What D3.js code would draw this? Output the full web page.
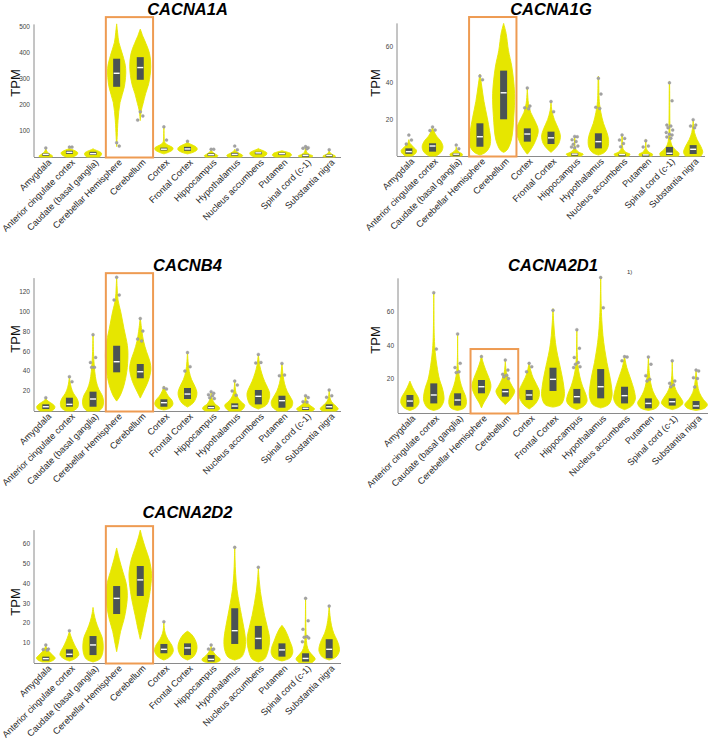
<!DOCTYPE html>
<html><head><meta charset="utf-8">
<script src="https://cdn.jsdelivr.net/npm/d3@7"></script>
<style>
html,body{margin:0;padding:0;background:#fff;}
svg{display:block;font-family:"Liberation Sans",Arial,sans-serif;}
</style></head>
<body>
<svg id="c" width="709" height="746"></svg>
<script>
const categories = ["Amygdala","Anterior cingulate cortex","Caudate (basal ganglia)","Cerebellar Hemisphere","Cerebellum","Cortex","Frontal Cortex","Hippocampus","Hypothalamus","Nucleus accumbens","Putamen","Spinal cord (c-1)","Substantia nigra"];
const genes = ["CACNA1A","CACNA1G","CACNB4","CACNA2D1","CACNA2D2"];
const highlighted = ["Cerebellar Hemisphere","Cerebellum"];

// tick labels per gene
const ticksA1A = [100,200,300,400,500];
const ticksA1G = [20,40,60];
const ticksB4 = [20,40,60,80,100,120];
const ticksA2D1 = [20,40,60];
const ticksA2D2 = [10,20,30,40,50,60];

// violin profiles: [TPM, relative density]
const shapesA1A = [
 [[0,0.55],[4,0.6],[10,0.4],[18,0.15],[28,0.03],[35,0]],
 [[0,0.3],[8,0.65],[16,0.74],[24,0.5],[30,0.15],[34,0]],
 [[0,0.55],[7,0.72],[15,0.74],[22,0.5],[28,0.15],[32,0]],
 [[40,0],[80,0.05],[140,0.12],[210,0.3],[270,0.68],[340,0.8],[390,0.55],[440,0.2],[480,0.08],[512,0]],
 [[140,0],[180,0.1],[206,0.25],[245,0.48],[283,0.75],[347,0.93],[398,0.82],[437,0.5],[463,0.24],[492,0]],
 [[12,0],[18,0.4],[28,0.78],[35,0.8],[42,0.55],[50,0.2],[60,0.05],[80,0.02],[117,0]],
 [[12,0],[18,0.5],[28,0.85],[36,0.82],[45,0.5],[52,0.15],[58,0]],
 [[0,0.5],[5,0.6],[12,0.35],[20,0.1],[28,0]],
 [[0,0.6],[6,0.7],[14,0.4],[22,0.1],[30,0]],
 [[0,0.35],[8,0.7],[16,0.75],[24,0.45],[30,0.1],[33,0]],
 [[0,0.6],[7,0.85],[14,0.75],[20,0.35],[24,0]],
 [[0,0.5],[4,0.65],[10,0.35],[18,0.1],[30,0.03],[40,0]],
 [[0,0.5],[4,0.55],[10,0.25],[18,0.06],[26,0]]
];
const boxesA1A = [[5,10,14],[12,18,24],[8,13,20],[270,322,378],[297,344,384],[25,30,36],[24,31,39],[4,9,14],[5,10,16],[12,16,20],[9,13,17],[3,6,10],[3,6,10]];
const pointsA1A = [[35],[38,38],[],[55,42],[174,158,142],[116,65],[61],[30,30],[42,28],[],[],[40,36,34,32],[28]];

const shapesA1G = [
 [[0,0.3],[1.5,0.6],[3,0.68],[5,0.4],[7,0.1],[9,0]],
 [[0,0.3],[2,0.75],[5,0.92],[8,0.75],[11,0.35],[14,0.1],[16,0]],
 [[0,0.5],[1,0.55],[2,0.3],[3.5,0.05],[5,0]],
 [[0.5,0],[2,0.5],[5,0.85],[9,0.95],[14,0.85],[21,0.65],[30,0.36],[38,0.17],[44,0.03],[45,0]],
 [[2,0],[3.3,0.3],[8.8,0.68],[21.6,0.9],[34.5,0.97],[49,0.73],[58,0.43],[67.5,0.22],[73,0]],
 [[1,0],[3,0.25],[8,0.7],[14,0.97],[19,0.7],[24,0.3],[29,0.1],[35,0.02],[37,0]],
 [[2,0],[4,0.35],[7,0.7],[11,0.83],[15,0.65],[20,0.3],[25,0.08],[30,0]],
 [[0,0.6],[1,0.75],[2,0.4],[4,0.08],[10,0.02],[11,0]],
 [[0.5,0],[2,0.55],[5,0.85],[9,0.9],[13,0.75],[18,0.45],[24,0.22],[30,0.08],[43,0.02],[44,0]],
 [[0,0.6],[1,0.7],[2,0.35],[4,0.08],[11,0.02],[12,0]],
 [[0,0.55],[1,0.6],[2,0.3],[4,0.05],[8,0.01],[9,0]],
 [[0,0.8],[1.5,0.85],[3.5,0.5],[6,0.2],[10,0.07],[17,0.04],[40,0.01],[41,0]],
 [[0,0.7],[2,0.85],[5,0.7],[9,0.35],[13,0.12],[17,0.03],[20,0]]
];
const boxesA1G = [[1.2,2.4,4.2],[2.4,5.5,7],[0.5,1,1.5],[5.1,10.6,18],[20.2,34.8,47],[7.9,12.1,15.2],[6.6,10,13.4],[0.5,1,1.5],[4.2,7.9,12.5],[0.4,0.8,1.2],[0.3,0.6,1],[0.5,1.5,5],[1.1,3.7,6]];
const pointsA1G = [[11.5,8.8,6.6],[16,14.3,14],[6,4],[44,42],[],[37.5,27.5,26.5,26],[30,24.4],[10.8,10.6,9,8,6.5,5.5,5,4.5],[42.8,34.1,26.8,26.2],[11.6,9.7,8.8,6.9,5.1],[8.4,5.5,5],[40.3,30.4,17,16.5,15.5,14.3,13,12,11.6,10.5,9.8],[20,17,16.5,15.5]];

const shapesB4 = [
 [[0,0.5],[2,0.75],[4.5,0.8],[7,0.6],[10,0.2],[12,0.03],[13,0]],
 [[0,0.3],[3,0.7],[8,0.8],[13,0.65],[18,0.35],[24,0.15],[30,0.05],[35,0]],
 [[0,0.55],[4,0.85],[10,0.93],[16,0.8],[22,0.5],[30,0.28],[40,0.15],[50,0.08],[60,0.04],[78,0]],
 [[10,0],[16,0.33],[26,0.65],[40,0.9],[56,1],[66,0.95],[83,0.65],[100,0.36],[112,0.12],[125,0.04],[136,0]],
 [[13,0],[20,0.3],[30,0.7],[42,0.94],[50,0.85],[60,0.55],[70,0.3],[80,0.15],[94,0]],
 [[1,0],[3,0.55],[7,0.8],[11,0.7],[15,0.4],[20,0.15],[24,0.02],[25,0]],
 [[4,0],[8,0.5],[14,0.78],[19,0.83],[25,0.65],[32,0.35],[40,0.15],[50,0.05],[60,0]],
 [[0,0.5],[2,0.75],[4,0.7],[7,0.35],[12,0.1],[16,0.02],[19,0]],
 [[0,0.5],[3,0.8],[6,0.88],[9,0.6],[13,0.3],[18,0.12],[24,0.04],[31,0]],
 [[2,0],[6,0.7],[12,0.95],[18,1],[24,0.8],[30,0.55],[38,0.3],[46,0.12],[52,0.05],[57,0]],
 [[0,0.4],[4,0.85],[9,0.95],[14,0.75],[20,0.45],[28,0.22],[36,0.1],[48,0]],
 [[0,0.6],[2,0.8],[4,0.6],[7,0.25],[10,0.08],[15,0.02],[16,0]],
 [[0,0.6],[2,0.8],[5,0.6],[8,0.3],[12,0.1],[17,0.03],[21,0]]
];
const boxesB4 = [[2,4.3,6.7],[4.3,6.7,13.4],[4.3,12.1,19.5],[39,49.7,65.8],[33,39.6,47.4],[4.3,8.4,11.8],[12.1,17.1,23.2],[2,3.4,5.3],[2,5,7.7],[6.7,14.8,21.2],[3.3,10.4,15.4],[1,2.7,4],[2,4.3,6.7]];
const pointsB4 = [[13.4],[34.6,29.6],[77,54,49,44,44],[135,117,112],[93.3,80.6,72.6,70.6],[23.5,22.2],[59,44.7,40.3],[19.5,18,16.5,15.4,13.4,12.5],[30.2,26.2,20.2,16],[57.1,49,48.5],[48,36.3,35.6],[15.4,13.5,9.4,9],[21.2,15.4,13.9]];

const shapesA2D1 = [
 [[1.5,0],[3,0.5],[6,0.8],[9,0.75],[12,0.5],[15,0.25],[19,0]],
 [[1.5,0],[3,0.55],[7,0.88],[10,0.9],[15,0.75],[20,0.5],[28,0.28],[36,0.13],[45,0.05],[72,0]],
 [[1.5,0],[3,0.6],[6,0.78],[10,0.7],[14,0.45],[19,0.22],[25,0.08],[32,0.02],[47,0]],
 [[3,0],[6,0.2],[10,0.55],[14,0.8],[17,0.83],[21,0.65],[26,0.35],[31,0.1],[34.5,0]],
 [[5,0],[7,0.3],[10,0.65],[13,0.83],[16,0.6],[20,0.3],[24,0.1],[28,0.03],[32,0]],
 [[2.4,0],[5,0.5],[9,0.85],[13,0.9],[17,0.65],[21,0.35],[25,0.15],[30,0]],
 [[3.5,0],[5,0.7],[10,1],[16,0.95],[22,0.8],[30,0.55],[38,0.3],[46,0.15],[54,0.06],[62,0]],
 [[2,0],[4,0.6],[7,0.9],[11,0.8],[16,0.5],[22,0.25],[28,0.1],[35,0.04],[49,0]],
 [[3,0],[5,0.7],[10,1],[16,0.95],[22,0.8],[30,0.55],[38,0.35],[46,0.2],[55,0.1],[65,0.04],[81,0]],
 [[2,0],[4,0.6],[8,0.95],[12,0.9],[17,0.7],[22,0.45],[27,0.2],[31,0.07],[34,0]],
 [[1.5,0],[3,0.7],[6,0.95],[9,0.7],[13,0.4],[18,0.2],[24,0.08],[33,0]],
 [[2,0],[3.5,0.6],[6,0.95],[9,0.75],[12,0.45],[16,0.2],[20,0.07],[25,0.02],[31,0]],
 [[1.5,0],[3,0.8],[5,1],[8,0.65],[12,0.3],[17,0.12],[22,0.04],[26,0]]
];
const boxesA2D1 = [[3.7,7.1,10.7],[5.7,10.7,17.6],[4.4,7.7,11.7],[11.7,15.6,19.6],[9.7,12.7,14.3],[7.7,10.7,13.7],[13.1,20,26.9],[5.7,9.7,14.3],[8.7,15.6,26.1],[5.7,10.3,15.6],[2.8,5.7,8.7],[4.4,6.7,8.7],[2.4,4.2,7.1]];
const pointsA2D1 = [[],[71.5,38],[47,29.5,27,24.5,24],[33.5],[31.5,25.5,23,22.5,21.5,20.5],[29.5,27.5,24.5],[61],[49.5,38.5,33,30,29,27.5,27],[80.5,62.5],[33.5,33.3,31],[33.3,29,22.2,20,19],[31,19,17.7,16.7,15.6],[25.5,25,21,20.5,15.5]];

const shapesA2D2 = [
 [[0.5,0.3],[1.5,0.7],[2.5,0.83],[4,0.6],[6,0.25],[8,0.05],[9,0]],
 [[1,0],[2,0.45],[4,0.83],[6,0.75],[8,0.55],[11,0.3],[14,0.1],[16,0]],
 [[0.5,0],[2,0.6],[5,0.85],[9,0.9],[13,0.8],[17,0.5],[21,0.25],[25,0.08],[28,0]],
 [[5.7,0],[10,0.15],[16,0.35],[22,0.65],[28,0.85],[34,0.95],[40,0.85],[46,0.55],[52,0.25],[56,0.08],[58,0]],
 [[12,0],[17,0.2],[24,0.45],[32,0.75],[40,0.95],[45,1],[52,0.8],[58,0.45],[63,0.18],[67,0]],
 [[1.5,0],[3,0.5],[6,0.83],[9,0.7],[12,0.35],[15,0.12],[18,0.03],[21,0]],
 [[1.5,0],[3,0.5],[6,0.8],[9,0.83],[12,0.65],[14.5,0.35],[16,0]],
 [[0.3,0.4],[1,0.75],[2,0.8],[3.5,0.5],[5.5,0.2],[7.5,0.05],[8.5,0]],
 [[1.5,0],[3,0.6],[7,0.9],[12,0.95],[18,0.8],[24,0.6],[30,0.4],[37,0.2],[45,0.08],[52,0.03],[59,0]],
 [[0.5,0],[2,0.55],[6,0.85],[12,1],[18,0.8],[24,0.55],[30,0.35],[36,0.18],[42,0.07],[48,0]],
 [[1,0],[2.5,0.7],[5,0.95],[8,0.9],[11,0.7],[14,0.5],[17,0.25],[19,0]],
 [[0.3,0.6],[2,0.85],[4,0.6],[6,0.3],[9,0.12],[14,0.05],[22,0.02],[33,0]],
 [[1.5,0],[3,0.6],[6,0.9],[9,0.85],[12,0.65],[15,0.4],[19,0.2],[24,0.07],[29,0]]
];
const boxesA2D2 = [[1.2,2.2,3.2],[2.9,4.4,6.9],[4,9.1,13.6],[24.7,32.6,38.8],[33.8,41.9,48.9],[4.9,6.9,9.6],[4,7.6,9.9],[0.7,1.8,4],[9.6,16.3,27.6],[6.9,12.4,18.7],[3.2,6.6,9.9],[0.7,2.3,4.9],[2.4,6.9,12]];
const pointsA2D2 = [[9.1,7,6.8,6.5],[16.3],[],[],[],[20.8],[],[9.1,7,7,6.8],[58.3],[48.3],[],[32.6,21.3,17,13.3,13,12.6,10.7],[28.7]];

// highlight frame top (TPM) per gene
const frameTop = [538, 76.5, 139, 38, 69];
const axisTop = [510, 73, 134, 80, 67];

// ---------------- layout ----------------
const panels = [
 {xr:[34,341], dom:[0,500], rng:[157,27], ticks:ticksA1A, shapes:shapesA1A, boxes:boxesA1A, pts:pointsA1A, titleY:15, tpm:[15,83]},
 {xr:[397,705], dom:[0,60], rng:[156,47], ticks:ticksA1G, shapes:shapesA1G, boxes:boxesA1G, pts:pointsA1G, titleY:15, tpm:[375,83]},
 {xr:[34,341], dom:[0,120], rng:[411,292], ticks:ticksB4, shapes:shapesB4, boxes:boxesB4, pts:pointsB4, titleY:271, tpm:[15,339]},
 {xr:[398,708], dom:[0,60], rng:[413,312], ticks:ticksA2D1, shapes:shapesA2D1, boxes:boxesA2D1, pts:pointsA2D1, titleY:271, tpm:[375,340]},
 {xr:[34,341], dom:[0,60], rng:[663,544], ticks:ticksA2D2, shapes:shapesA2D2, boxes:boxesA2D2, pts:pointsA2D2, titleY:518, tpm:[15,602]}
];

const svg = d3.select("#c");
const HALF = 11.3;
const violinFill = "#e6e600";
const boxFill = "#4b5355";
const jit = [0, 2.6, -2.6, 1.4, -1.4, 3.2, -3.2];

panels.forEach((p, gi) => {
  const g = svg.append("g");
  const x = d3.scaleBand().domain(categories).range(p.xr).padding(0);
  const y = d3.scaleLinear().domain(p.dom).range(p.rng);
  const w = d3.scaleLinear().domain([0,1]).range([0,HALF]);
  const base = y(0);

  // axes
  g.append("line").attr("x1", p.xr[0]).attr("x2", p.xr[0]).attr("y1", base).attr("y2", y(axisTop[gi]))
    .attr("stroke","#8a8a8a").attr("stroke-width",1);
  g.append("line").attr("x1", p.xr[0]).attr("x2", p.xr[1]).attr("y1", base+0.5).attr("y2", base+0.5)
    .attr("stroke","#8a8a8a").attr("stroke-width",1);
  g.selectAll("text.tk").data(p.ticks).join("text").attr("class","tk")
    .attr("x", p.xr[0]-4).attr("y", d=>y(d)).attr("dy","0.33em")
    .attr("text-anchor","end").attr("font-size",6.5).attr("fill","#444").text(d=>d);

  // violins
  const area = d3.area().curve(d3.curveCatmullRom.alpha(0.5));
  categories.forEach((c, i) => {
    const cx = x(c) + x.bandwidth()/2;
    area.y(d=>y(d[0])).x0(d=>cx - w(d[1])).x1(d=>cx + w(d[1]));
    g.append("path").attr("d", area(p.shapes[i])).attr("fill", violinFill)
      .attr("stroke", violinFill).attr("stroke-width", 0.9).attr("stroke-linejoin","round");
    const b = p.boxes[i];
    const top = y(b[2]), bot = y(b[0]);
    g.append("rect").attr("x", cx-3.5).attr("width", 7).attr("y", top).attr("height", Math.max(bot-top, 2.5)).attr("fill", boxFill);
    g.append("line").attr("x1", cx-3).attr("x2", cx+3).attr("y1", y(b[1])).attr("y2", y(b[1]))
      .attr("stroke","#fff").attr("stroke-width",1.4);
    g.selectAll(null).data(p.pts[i]).join("circle")
      .attr("cx", (d,k)=>cx + jit[k % jit.length]).attr("cy", d=>y(d)).attr("r",1.5)
      .attr("fill","#a3a3a3").attr("stroke","#8d8d8d").attr("stroke-width",0.3);
  });

  // highlight frame
  const fx0 = x(highlighted[0]) + 1, fx1 = x(highlighted[1]) + x.bandwidth() + 1;
  g.append("rect").attr("x", fx0).attr("y", y(frameTop[gi])).attr("width", fx1-fx0).attr("height", base + 0.5 - y(frameTop[gi]))
    .attr("fill","none").attr("stroke","#ee9b52").attr("stroke-width",2);

  // x labels
  categories.forEach(c => {
    const cx = x(c) + x.bandwidth()/2;
    g.append("text").attr("transform", `translate(${cx+6},${base+6}) rotate(-45)`)
      .attr("text-anchor","end").attr("font-size",9.1).attr("fill","#2a2a2a").text(c);
  });

  // title
  g.append("text").attr("x", (p.xr[0]+p.xr[1])/2).attr("y", p.titleY).attr("text-anchor","middle")
    .attr("font-size",16.5).attr("font-weight","bold").attr("font-style","italic").attr("fill","#000").text(genes[gi]);
  // y label
  g.append("text").attr("transform", `translate(${p.tpm[0]+4.5},${p.tpm[1]}) rotate(-90)`)
    .attr("text-anchor","middle").attr("font-size",13).attr("fill","#111").text("TPM");
});

svg.append("text").attr("x",627).attr("y",274).attr("font-size",6).attr("fill","#333").text("1)");
</script>
</body></html>
